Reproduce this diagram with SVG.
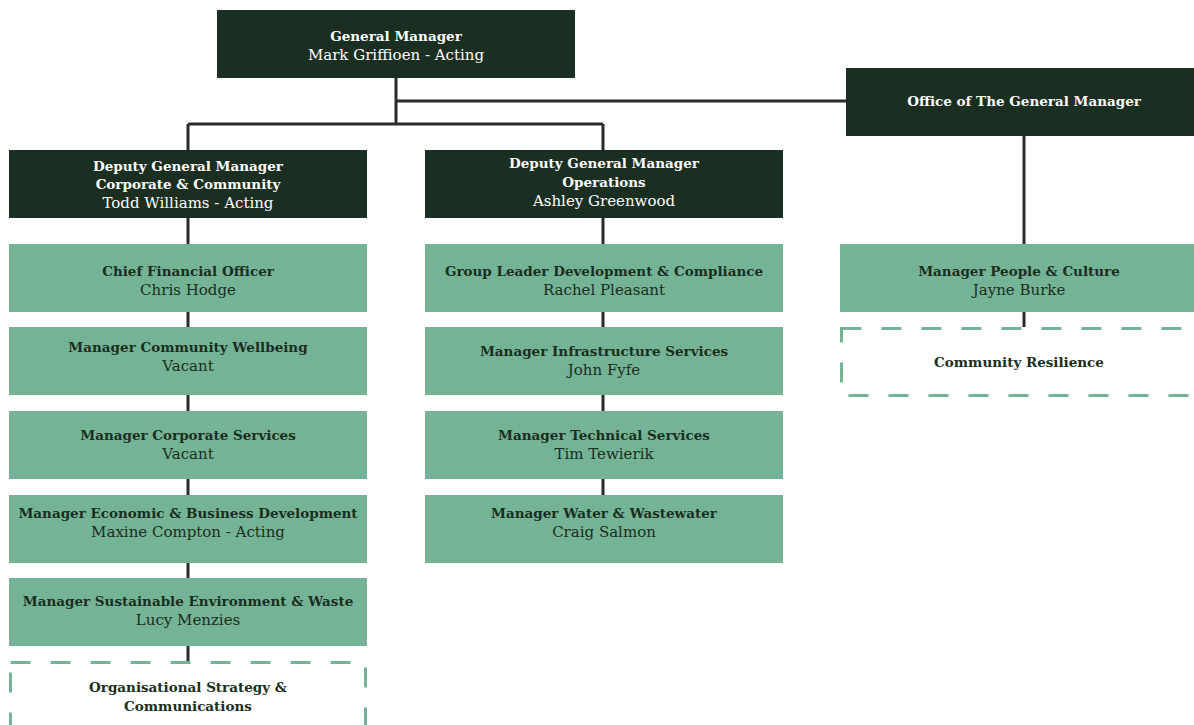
<svg xmlns="http://www.w3.org/2000/svg" width="1194" height="725" viewBox="0 0 1194 725">
<style>
.dark{fill:#1a2e21}
.light{fill:#74b396}
.dash{fill:#ffffff;stroke:#74b396;stroke-width:3;stroke-dasharray:20 20}
.ln{stroke:#2b2b2b;stroke-width:3;fill:none}
text{font-family:"DejaVu Serif","Liberation Serif",serif;font-size:15px;text-anchor:middle}
.w{fill:#ffffff}
.k{fill:#1a2e21}
.b{font-weight:bold;font-size:13.5px}
</style>
<rect width="1194" height="725" fill="#ffffff"/>
<g id="connectors">
<path class="ln" d="M396 78V124M396 101H846M188 124H603M188 124V661M603 124V495M1024 136V327"/>
</g>
<g id="gm"><rect class="dark" x="217" y="10" width="358" height="68"/>
<text class="w b" x="396" y="41">General Manager</text><text class="w" x="396" y="60">Mark Griffioen - Acting</text></g>
<g id="office"><rect class="dark" x="846" y="68" width="348" height="68"/>
<text class="w b" x="1024" y="106">Office of The General Manager</text></g>
<g id="dgm-cc"><rect class="dark" x="9" y="150" width="358" height="68"/>
<text class="w b" x="188" y="171">Deputy General Manager</text><text class="w b" x="188" y="189">Corporate &amp; Community</text><text class="w" x="188" y="208">Todd Williams - Acting</text></g>
<g id="dgm-ops"><rect class="dark" x="425" y="150" width="358" height="68"/>
<text class="w b" x="604" y="168">Deputy General Manager</text><text class="w b" x="604" y="187">Operations</text><text class="w" x="604" y="206">Ashley Greenwood</text></g>
<g id="cfo"><rect class="light" x="9" y="244" width="358" height="68"/>
<text class="k b" x="188" y="276">Chief Financial Officer</text><text class="k" x="188" y="295">Chris Hodge</text></g>
<g id="mcw"><rect class="light" x="9" y="327" width="358" height="68"/>
<text class="k b" x="188" y="352">Manager Community Wellbeing</text><text class="k" x="188" y="371">Vacant</text></g>
<g id="mcs"><rect class="light" x="9" y="411" width="358" height="68"/>
<text class="k b" x="188" y="440">Manager Corporate Services</text><text class="k" x="188" y="459">Vacant</text></g>
<g id="mebd"><rect class="light" x="9" y="495" width="358" height="68"/>
<text class="k b" x="188" y="518">Manager Economic &amp; Business Development</text><text class="k" x="188" y="537">Maxine Compton - Acting</text></g>
<g id="msew"><rect class="light" x="9" y="578" width="358" height="68"/>
<text class="k b" x="188" y="606">Manager Sustainable Environment &amp; Waste</text><text class="k" x="188" y="625">Lucy Menzies</text></g>
<g id="osc"><rect class="dash" x="10.5" y="662.5" width="355" height="80"/>
<text class="k b" x="188" y="692">Organisational Strategy &amp;</text><text class="k b" x="188" y="711">Communications</text></g>
<g id="gldc"><rect class="light" x="425" y="244" width="358" height="68"/>
<text class="k b" x="604" y="276">Group Leader Development &amp; Compliance</text><text class="k" x="604" y="295">Rachel Pleasant</text></g>
<g id="mis"><rect class="light" x="425" y="327" width="358" height="68"/>
<text class="k b" x="604" y="356">Manager Infrastructure Services</text><text class="k" x="604" y="375">John Fyfe</text></g>
<g id="mts"><rect class="light" x="425" y="411" width="358" height="68"/>
<text class="k b" x="604" y="440">Manager Technical Services</text><text class="k" x="604" y="459">Tim Tewierik</text></g>
<g id="mww"><rect class="light" x="425" y="495" width="358" height="68"/>
<text class="k b" x="604" y="518">Manager Water &amp; Wastewater</text><text class="k" x="604" y="537">Craig Salmon</text></g>
<g id="mpc"><rect class="light" x="840" y="244" width="354" height="68"/>
<text class="k b" x="1019" y="276">Manager People &amp; Culture</text><text class="k" x="1019" y="295">Jayne Burke</text></g>
<g id="cr"><rect class="dash" x="841.5" y="328.5" width="360" height="67"/>
<text class="k b" x="1019" y="367">Community Resilience</text></g>
</svg>
